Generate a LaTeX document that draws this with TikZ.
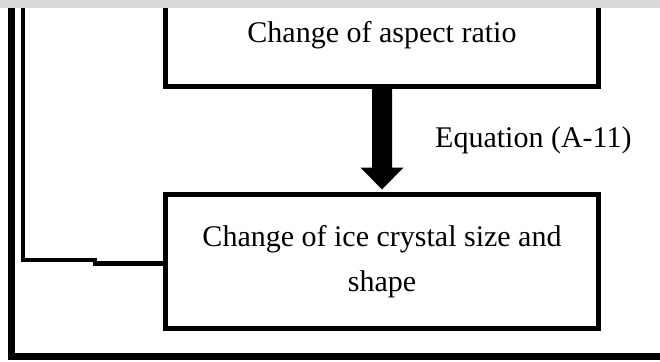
\documentclass[tikz,border=0pt]{standalone}
\usepackage{fontspec}
\setmainfont{Liberation Serif}
\definecolor{bandgray}{RGB}{217,217,217}
\begin{document}
\begin{tikzpicture}[x=1pt,y=-1pt,
  boxstyle/.style={draw=black, line width=5pt, inner sep=0pt, minimum width=433pt,
    font=\fontsize{30}{45}\selectfont},
  thickline/.style={line width=7pt},
  linkline/.style={line width=4.5pt},
  lbl/.style={font=\fontsize{30}{36}\selectfont, inner sep=0pt}]
\useasboundingbox (0,0) rectangle (660,361);
\clip (0,0) rectangle (660,361);
\fill[white] (0,0) rectangle (660,361);
% boxes
\node[boxstyle, minimum height=106.5pt, text height=25pt, text depth=7.5pt] (top) at (382,33.25) {Change of aspect ratio};
\node[boxstyle, minimum height=134.5pt, align=center] (bottom) at (382,261.25) {Change of ice crystal size and\\shape};
% outer feedback line
\coordinate (outerstart) at (11,-10);
\coordinate (outerend) at (670,356.5);
\draw[thickline] (outerstart) |- (outerend);
% inner feedback line
\coordinate (innerstart) at (22.8,-10);
\coordinate (jog) at (95,260);
\draw[linkline] (innerstart) |- (jog) |- ([yshift=-2.25pt]bottom.west);
% arrow
\fill[black] ([xshift=-10pt]top.south) -- ([xshift=10pt]top.south)
  -- ([xshift=10pt,yshift=24pt]bottom.north) -- ([xshift=21.5pt,yshift=24pt]bottom.north)
  -- ([yshift=2pt]bottom.north) -- ([xshift=-21.5pt,yshift=24pt]bottom.north)
  -- ([xshift=-10pt,yshift=24pt]bottom.north) -- cycle;
\node[lbl, anchor=base west] (eq) at (435,147) {Equation (A-11)};
% top gray band
\fill[bandgray] (0,0) rectangle (660,8);
\end{tikzpicture}
\end{document}
